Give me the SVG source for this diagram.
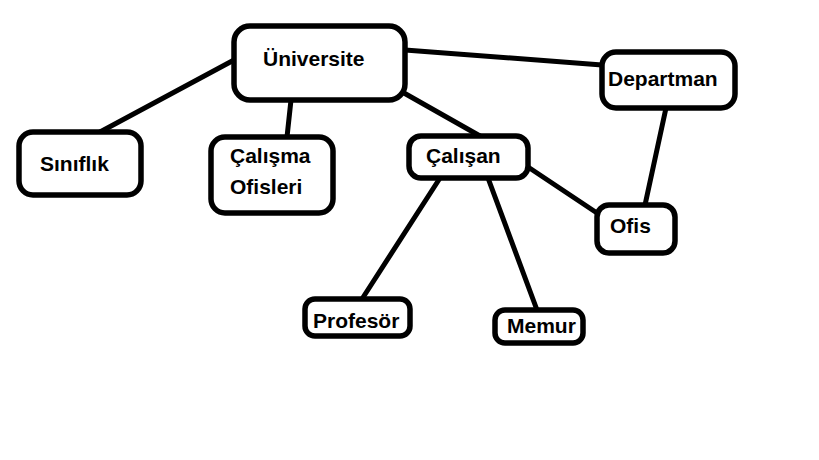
<svg xmlns="http://www.w3.org/2000/svg" width="819" height="460" viewBox="0 0 819 460">
<style>
.box{fill:#fff;stroke:#000;stroke-width:5.5}
.ln{stroke:#000;stroke-width:5;stroke-linecap:round;fill:none}
text{font-family:"Liberation Sans",Arial,sans-serif;font-weight:bold;font-size:21px;fill:#000}
</style>
<rect width="819" height="460" fill="#fff"/>
<g id="connectors">
<line class="ln" x1="234" y1="60" x2="100" y2="132"/>
<line class="ln" x1="291" y1="100" x2="287" y2="137"/>
<line class="ln" x1="404" y1="93" x2="480" y2="136"/>
<line class="ln" x1="405" y1="50" x2="602" y2="65"/>
<line class="ln" x1="666" y1="108" x2="645" y2="205"/>
<line class="ln" x1="528" y1="167" x2="597" y2="213"/>
<line class="ln" x1="440" y1="178" x2="362" y2="299"/>
<line class="ln" x1="488" y1="178" x2="537" y2="310"/>
</g>
<g id="universite">
<rect class="box" x="234" y="26" width="171" height="74" rx="16"/>
<text x="263" y="66">Üniversite</text>
</g>
<g id="departman">
<rect class="box" x="602" y="52" width="133" height="56" rx="14"/>
<text x="608" y="86">Departman</text>
</g>
<g id="siniflik">
<rect class="box" x="19" y="132" width="122" height="63" rx="14"/>
<text x="40" y="171">Sınıflık</text>
</g>
<g id="calisma-ofisleri">
<rect class="box" x="211" y="137" width="122" height="76" rx="14"/>
<text x="230" y="163">Çalışma</text>
<text x="230" y="194">Ofisleri</text>
</g>
<g id="calisan">
<rect class="box" x="409" y="136" width="119" height="42" rx="12"/>
<text x="426" y="163">Çalışan</text>
</g>
<g id="ofis">
<rect class="box" x="597" y="205" width="78" height="48" rx="12"/>
<text x="610" y="233">Ofis</text>
</g>
<g id="profesor">
<rect class="box" x="305" y="299" width="105" height="37" rx="10"/>
<text x="313" y="328">Profesör</text>
</g>
<g id="memur">
<rect class="box" x="495" y="310" width="88" height="33" rx="10"/>
<text x="507" y="333">Memur</text>
</g>
</svg>
